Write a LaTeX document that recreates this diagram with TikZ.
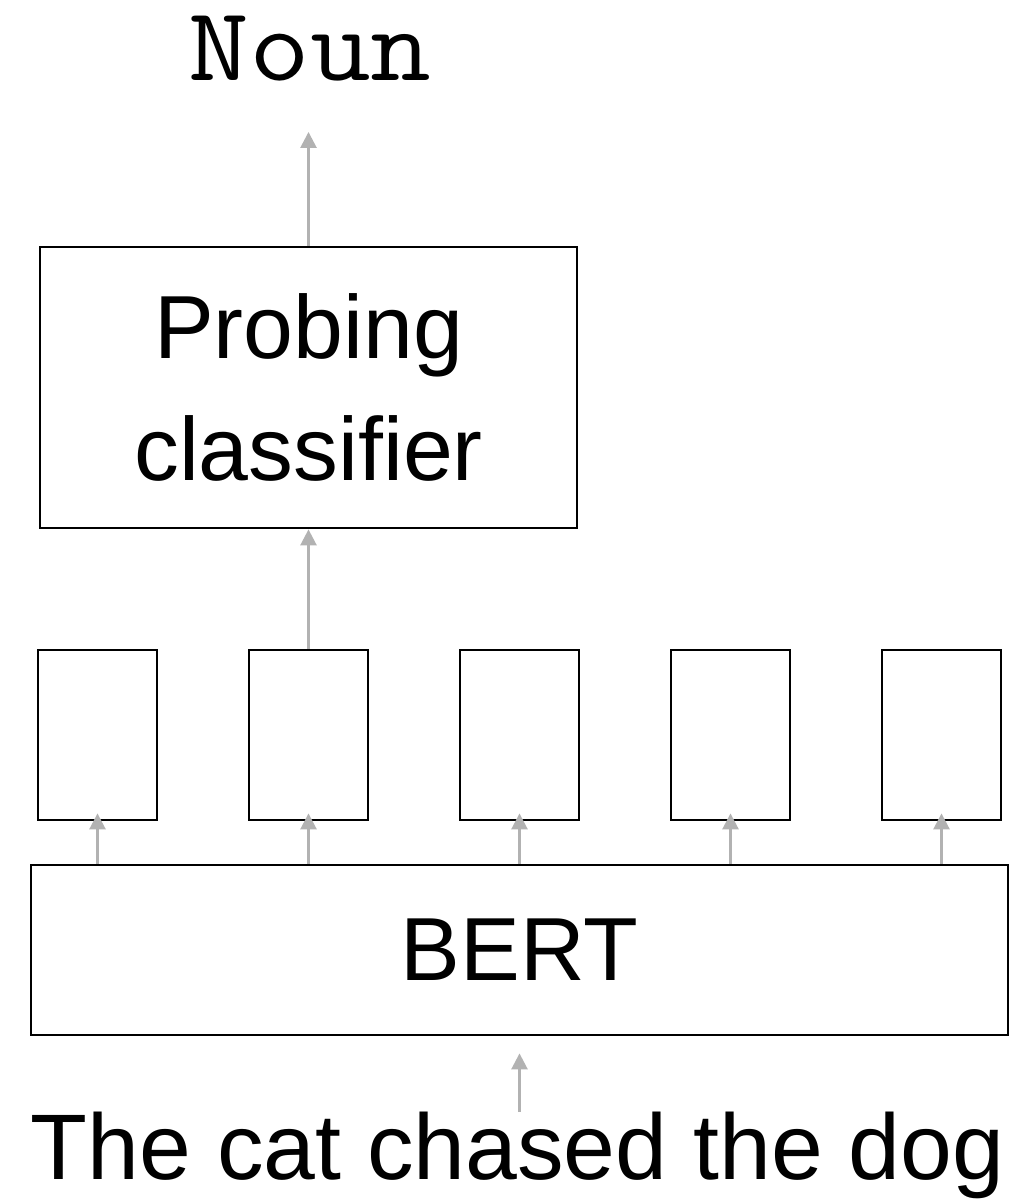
\documentclass[tikz,border=0pt]{standalone}
\usepackage{fontspec}
\setmainfont{Liberation Sans}
\usetikzlibrary{arrows.meta}
\tikzset{
  box/.style={draw, line width=1.6pt, inner sep=0pt},
  arr/.style={-{Triangle[length=0.32cm, width=0.32cm]}, gray!60, line width=1.5pt},
  bigtext/.style={font=\fontsize{51}{69}\selectfont, inner sep=0pt}
}
\begin{document}
\begin{tikzpicture}
    \useasboundingbox (0,0) rectangle (20.22,24);

    % Nhãn đầu ra
    \node[font=\ttfamily\fontsize{60}{60}\selectfont, inner sep=0pt, anchor=base, xscale=1.12, transform shape] (noun) at (6.2,22.38) {Noun};

    % Bộ phân loại
    \node[box, bigtext, minimum width=10.74cm, minimum height=5.62cm, align=center] (probe) at (6.17,16.25) {Probing\\classifier};

    % Năm vectơ
    \foreach \i/\x in {1/1.95, 2/6.17, 3/10.39, 4/14.61, 5/18.83}
        \node[box, minimum width=2.38cm, minimum height=3.4cm] (vec\i) at (\x,9.3) {};

    % BERT
    \node[box, bigtext, minimum width=19.54cm, minimum height=3.4cm] (bert) at (10.39,5.0) {BERT};

    % Câu đầu vào
    \node[font=\fontsize{53}{60}\selectfont, inner sep=0pt, anchor=base] (sent) at (10.35,0.4) {The cat chased the dog};

    % Các mũi tên
    \draw[arr, shorten >=0.34cm] (bert.south |- sent.north) -- (bert.south);
    \foreach \i in {1,...,5}
        \draw[arr, shorten >=-0.16cm] (vec\i.south |- bert.north) -- (vec\i.south);
    \draw[arr] (vec2.north) -- (probe.south);
    \draw[arr, shorten >=1.0cm] (probe.north) -- (probe.north |- noun.south);
\end{tikzpicture}
\end{document}
